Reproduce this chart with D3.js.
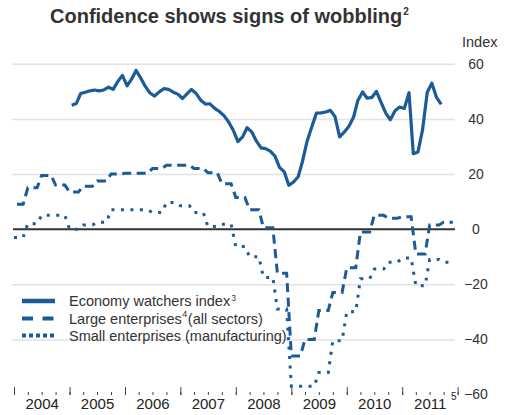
<!DOCTYPE html>
<html><head><meta charset="utf-8">
<script src="https://cdn.jsdelivr.net/npm/d3@7"></script>
<style>
body{margin:0;background:#fff;}
svg{display:block;font-family:"Liberation Sans",Arial,sans-serif;}
</style>
</head><body>
<svg id="chart" width="505" height="415"></svg>
<script>
// ---- data ----
const yearLabels = ["2004","2005","2006","2007","2008","2009","2010","2011"];
const yTicks = [60, 40, 20, 0, -20, -40, -60];
const gridTicks = [60, 40, 20, -20, -40];

// Economy watchers index, monthly, Jan 2005 .. Sep 2011
const econStartYear = 2005;
const econValues = [
  45.0, 45.6, 49.2, 49.7, 50.2, 50.5, 50.2, 50.5, 51.5, 50.7, 53.6, 55.8,
  52.0, 54.6, 57.6, 54.8, 51.8, 49.4, 48.3, 49.8, 51.0, 50.7, 49.7, 49.0,
  47.4, 49.2, 50.7, 49.2, 46.8, 45.4, 45.5, 43.8, 42.7, 41.2, 38.9, 35.9,
  31.8, 33.5, 36.8, 35.3, 32.0, 29.5, 29.2, 28.3, 26.5, 22.4, 20.8, 15.9,
  17.1, 19.0, 24.5, 32.0, 37.0, 42.1, 42.2, 42.5, 43.1, 40.9, 33.5, 35.2,
  37.3, 40.7, 46.7, 49.8, 47.5, 47.8, 50.0, 46.0, 42.1, 39.7, 43.0, 44.3,
  43.8, 49.5, 27.4, 28.0, 36.0, 49.6, 53.0, 47.8, 45.3
];

// Tankan-type surveys, quarterly, Q1 2004 .. Q4 2011
const tankanStartYear = 2004;
const largeValues = [
  9, 15, 19.5, 16,
  13.5, 15.6, 17.5, 20,
  20.3, 20.3, 22, 23.2,
  23.2, 22, 20.5, 16.5,
  11.5, 7, 0.5, -16,
  -46, -40, -29.5, -23,
  -14, -1, 5, 4,
  4.5, -9, 1.5, 2.5
];
const smallValues = [
  -3, 2, 5, 5,
  0, 1.5, 2.5, 7,
  7, 7, 6, 9.7,
  8.5, 6, 1, 1.8,
  -6.3, -10, -17.5, -29,
  -57, -57, -52, -40.5,
  -30, -18, -14.5, -12,
  -10.5, -20.5, -11, -12
];

const seriesNames = ["Economy watchers index", "Large enterprises", "Small enterprises (manufacturing)"];

// ---- layout ----
const svg = d3.select("#chart");
const blue = "#1b5b98";
const x = d3.scaleTime()
  .domain([new Date(2004, 0, 1), new Date(2012, 0, 1)])
  .range([14, 457.6]);
const y = d3.scaleLinear().domain([-60, 60]).range([394.5, 63.8]);

// gridlines
svg.append("g")
  .attr("transform", "translate(455,0)")
  .call(d3.axisLeft(y).tickValues(gridTicks).tickSize(443).tickFormat(""))
  .call(g => g.select(".domain").remove())
  .call(g => g.selectAll("line").attr("stroke", "#e2e2e2").attr("stroke-width", 1.5));

// zero line
svg.append("line")
  .attr("x1", 13).attr("x2", 455)
  .attr("y1", y(0)).attr("y2", y(0))
  .attr("stroke", "#333").attr("stroke-width", 2);

// build data tables
const econData = econValues.map((v, i) => ({date: new Date(econStartYear, i, 15), v}));
function stepTable(vals) {
  const out = [];
  vals.forEach((v, k) => {
    const yr = tankanStartYear + Math.floor(k / 4);
    const q = k % 4;
    out.push({date: new Date(yr, q * 3, 1), v});
    out.push({date: new Date(yr, q * 3 + 2, 1), v});
  });
  return out;
}
const largeData = stepTable(largeValues);
const smallData = stepTable(smallValues);

const line = d3.line().x(d => x(d.date)).y(d => y(d.v));

svg.append("path").datum(smallData)
  .attr("d", line).attr("fill", "none")
  .attr("stroke", blue).attr("stroke-width", 3)
  .attr("stroke-dasharray", "3,6.5");

svg.append("path").datum(largeData)
  .attr("d", line).attr("fill", "none")
  .attr("stroke", blue).attr("stroke-width", 3)
  .attr("stroke-dasharray", "9,5.5")
  .attr("stroke-dashoffset", -3);

svg.append("path").datum(econData)
  .attr("d", line).attr("fill", "none")
  .attr("stroke", blue).attr("stroke-width", 3.2)
  .attr("stroke-linejoin", "round");

// x axis: major year ticks + quarterly minor ticks
const axisY = 395;
const quarterTicks = d3.timeMonth.every(3).range(new Date(2004, 0, 1), new Date(2012, 0, 2));
const yearTicks = d3.timeYear.range(new Date(2004, 0, 1), new Date(2012, 0, 2));
svg.append("g").attr("transform", `translate(0,${axisY})`)
  .call(d3.axisBottom(x).tickValues(quarterTicks).tickSizeInner(-3).tickSizeOuter(0).tickFormat(""))
  .call(g => g.select(".domain").remove())
  .call(g => g.selectAll("line").attr("stroke", "#444"));
svg.append("g").attr("transform", `translate(0,${axisY})`)
  .call(d3.axisBottom(x).tickValues(yearTicks).tickSizeInner(-8).tickSizeOuter(0).tickFormat(""))
  .call(g => g.select(".domain").remove())
  .call(g => g.selectAll("line").attr("stroke", "#444"));

const midYears = yearLabels.map(s => new Date(+s, 6, 1));
svg.append("g").attr("transform", `translate(0,${axisY})`)
  .call(d3.axisBottom(x).tickValues(midYears).tickSize(0).tickPadding(3)
        .tickFormat((d, i) => yearLabels[i]))
  .call(g => g.select(".domain").remove())
  .call(g => g.selectAll("text").attr("font-size", 15).attr("fill", "#222")
        .attr("font-family", "'Liberation Sans',Arial,sans-serif"));
svg.append("text").attr("x", 451).attr("y", 400)
  .attr("font-size", 10).attr("fill", "#222").text("5");

// y axis labels on the right
svg.append("g").attr("transform", "translate(476,0)")
  .call(d3.axisRight(y).tickValues(yTicks).tickSize(0).tickPadding(0))
  .call(g => g.select(".domain").remove())
  .call(g => g.selectAll("text").attr("text-anchor", "middle").attr("font-size", 14)
        .attr("fill", "#333").attr("font-family", "'Liberation Sans',Arial,sans-serif"));
svg.append("text").attr("x", 462).attr("y", 47)
  .attr("font-size", 14.5).attr("fill", "#333").text("Index");

// title
const title = svg.append("text").attr("x", 50).attr("y", 23)
  .attr("font-size", 20).attr("font-weight", "bold").attr("fill", "#333");
title.append("tspan").text("Confidence shows signs of wobbling");
title.append("tspan").attr("font-size", 10).attr("dy", -8).attr("dx", 1).text("2");

// legend
const lg = svg.append("g");
const rows = [
  {y: 306, dash: null, w: 4.5},
  {y: 323.5, dash: "11,9.5", w: 4},
  {y: 340.5, dash: "4,3", w: 4}
];
rows.forEach(r => {
  lg.append("line").attr("x1", 22).attr("x2", 55)
    .attr("y1", r.y - 5).attr("y2", r.y - 5)
    .attr("stroke", blue).attr("stroke-width", r.w)
    .attr("stroke-dasharray", r.dash);
});
const fs = 14.5;
const t0 = lg.append("text").attr("x", 69).attr("y", rows[0].y).attr("font-size", fs).attr("fill", "#333");
t0.append("tspan").text(seriesNames[0]);
t0.append("tspan").attr("font-size", 8.5).attr("dy", -5).attr("dx", 1).text("3");
const t1 = lg.append("text").attr("x", 69).attr("y", rows[1].y).attr("font-size", fs).attr("fill", "#333");
t1.append("tspan").text(seriesNames[1]);
t1.append("tspan").attr("font-size", 9).attr("dy", -6.5).attr("dx", 0.5).text("4");
t1.append("tspan").attr("dy", 6.5).attr("dx", 0.5).text("(all sectors)");
lg.append("text").attr("x", 69).attr("y", rows[2].y).attr("font-size", fs).attr("fill", "#333")
  .text(seriesNames[2]);
</script>
</body></html>
